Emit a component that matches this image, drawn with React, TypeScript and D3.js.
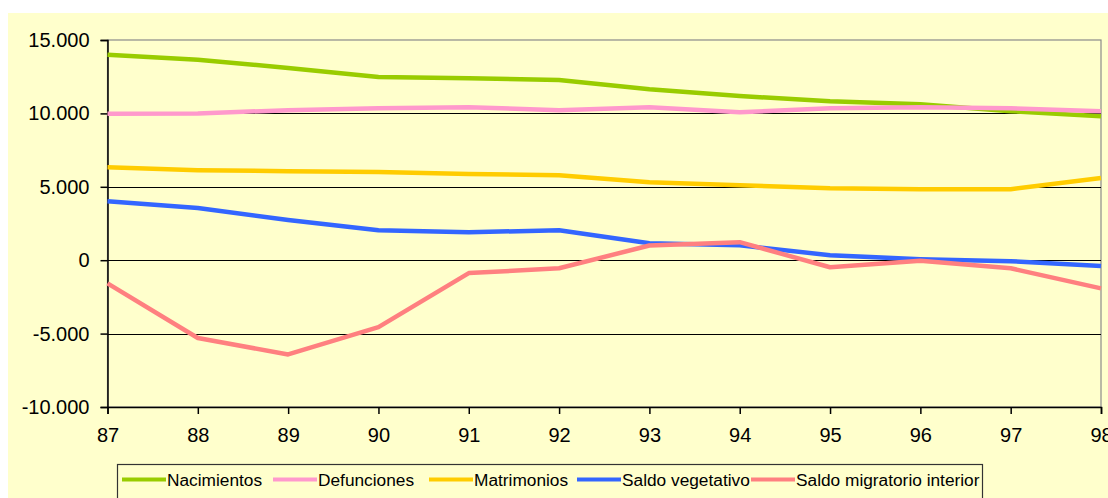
import { useEffect, useRef } from 'react'
import * as d3 from 'd3'

const years = [87, 88, 89, 90, 91, 92, 93, 94, 95, 96, 97, 98]
const nacimientos = [14000, 13650, 13100, 12480, 12400, 12270, 11650, 11180, 10830, 10620, 10150, 9800]
const defunciones = [9970, 9990, 10220, 10350, 10420, 10220, 10420, 10080, 10350, 10420, 10350, 10150]
const matrimonios = [6330, 6130, 6060, 6000, 5870, 5790, 5310, 5110, 4900, 4840, 4840, 5600]
const saldoVegetativo = [4020, 3560, 2740, 2040, 1900, 2040, 1160, 1020, 340, 70, -70, -400]
const saldoMigratorio = [-1580, -5300, -6420, -4560, -880, -550, 1000, 1230, -480, -30, -550, -1920]
const yTicks = [-10000, -5000, 0, 5000, 10000, 15000]

const seriesNames = ['Nacimientos', 'Defunciones', 'Matrimonios', 'Saldo vegetativo', 'Saldo migratorio interior']
const seriesColors = ['#99cc00', '#ff99cc', '#ffcc00', '#3366ff', '#ff8080']

export default function App() {
  const svgRef = useRef<SVGSVGElement>(null)

  useEffect(() => {
    if (!svgRef.current) return
    const svg = d3.select(svgRef.current)
    svg.selectAll('*').remove()

    const font = '"Liberation Sans", Arial, sans-serif'
    const left = 107.5, right = 1101, top = 40, bottom = 407

    const x = d3.scaleLinear().domain([87, 98]).range([left, right])
    const y = d3.scaleLinear().domain([-10000, 15000]).range([bottom, top])
    const fmt = d3.formatLocale({ decimal: ',', thousands: '.', grouping: [3], currency: ['', ''], minus: '-' }).format(',')

    // background
    svg.append('rect').attr('x', 8).attr('y', 13).attr('width', 1100).attr('height', 485).attr('fill', '#ffffcc')

    // plot border (top / right grey)
    svg.append('rect')
      .attr('x', left).attr('y', top)
      .attr('width', right - left).attr('height', bottom - top)
      .attr('fill', 'none').attr('stroke', '#8a8a8a').attr('stroke-width', 1.2)

    // gridlines
    svg.append('g')
      .selectAll('line')
      .data(yTicks.filter(t => t > -10000 && t < 15000))
      .join('line')
      .attr('x1', left).attr('x2', right)
      .attr('y1', d => Math.round(y(d)) + 0.5).attr('y2', d => Math.round(y(d)) + 0.5)
      .attr('stroke', '#000').attr('stroke-width', 1)

    // y axis
    const yAxis = svg.append('g')
      .attr('transform', `translate(${left},0)`)
      .call(d3.axisLeft(y).tickValues(yTicks).tickFormat(d => fmt(d as number)).tickSize(7).tickPadding(11))
    yAxis.select('.domain').attr('stroke', '#000').attr('stroke-width', 1.5)
    yAxis.selectAll('.tick line').attr('stroke', '#000').attr('stroke-width', 1.5)
    yAxis.selectAll('text').attr('font-family', font).attr('font-size', 20).attr('fill', '#000')

    // x axis
    const xAxis = svg.append('g')
      .attr('transform', `translate(0,${bottom})`)
      .call(d3.axisBottom(x).tickValues(years).tickFormat(d => String(d)).tickSize(7).tickPadding(14))
    xAxis.select('.domain').attr('stroke', '#000').attr('stroke-width', 1.5)
    xAxis.selectAll('.tick line').attr('stroke', '#000').attr('stroke-width', 1.5)
    xAxis.selectAll('text').attr('font-family', font).attr('font-size', 20).attr('fill', '#000')

    // series
    const allSeries = [nacimientos, defunciones, matrimonios, saldoVegetativo, saldoMigratorio]
    const line = d3.line<number>().x((_, i) => x(years[i])).y(d => y(d))
    allSeries.forEach((vals, i) => {
      svg.append('path')
        .datum(vals)
        .attr('d', line)
        .attr('fill', 'none')
        .attr('stroke', seriesColors[i])
        .attr('stroke-width', 4.5)
        .attr('stroke-linejoin', 'round')
    })

    // legend
    const legendX = [122, 273, 429, 577, 751]
    const legend = svg.append('g')
    legend.append('rect')
      .attr('x', 117.5).attr('y', 464.5).attr('width', 865).attr('height', 50)
      .attr('fill', '#ffffcc').attr('stroke', '#333').attr('stroke-width', 1.2)
    seriesNames.forEach((name, i) => {
      legend.append('line')
        .attr('x1', legendX[i]).attr('x2', legendX[i] + 44)
        .attr('y1', 479.5).attr('y2', 479.5)
        .attr('stroke', seriesColors[i]).attr('stroke-width', 4)
      legend.append('text')
        .attr('x', legendX[i] + 45).attr('y', 486)
        .attr('font-family', font).attr('font-size', 17.3).attr('fill', '#000')
        .text(name)
    })
  }, [])

  return (
    <svg ref={svgRef} width={1108} height={498} style={{ position: 'absolute', left: 0, top: 0, background: '#fff' }} />
  )
}
